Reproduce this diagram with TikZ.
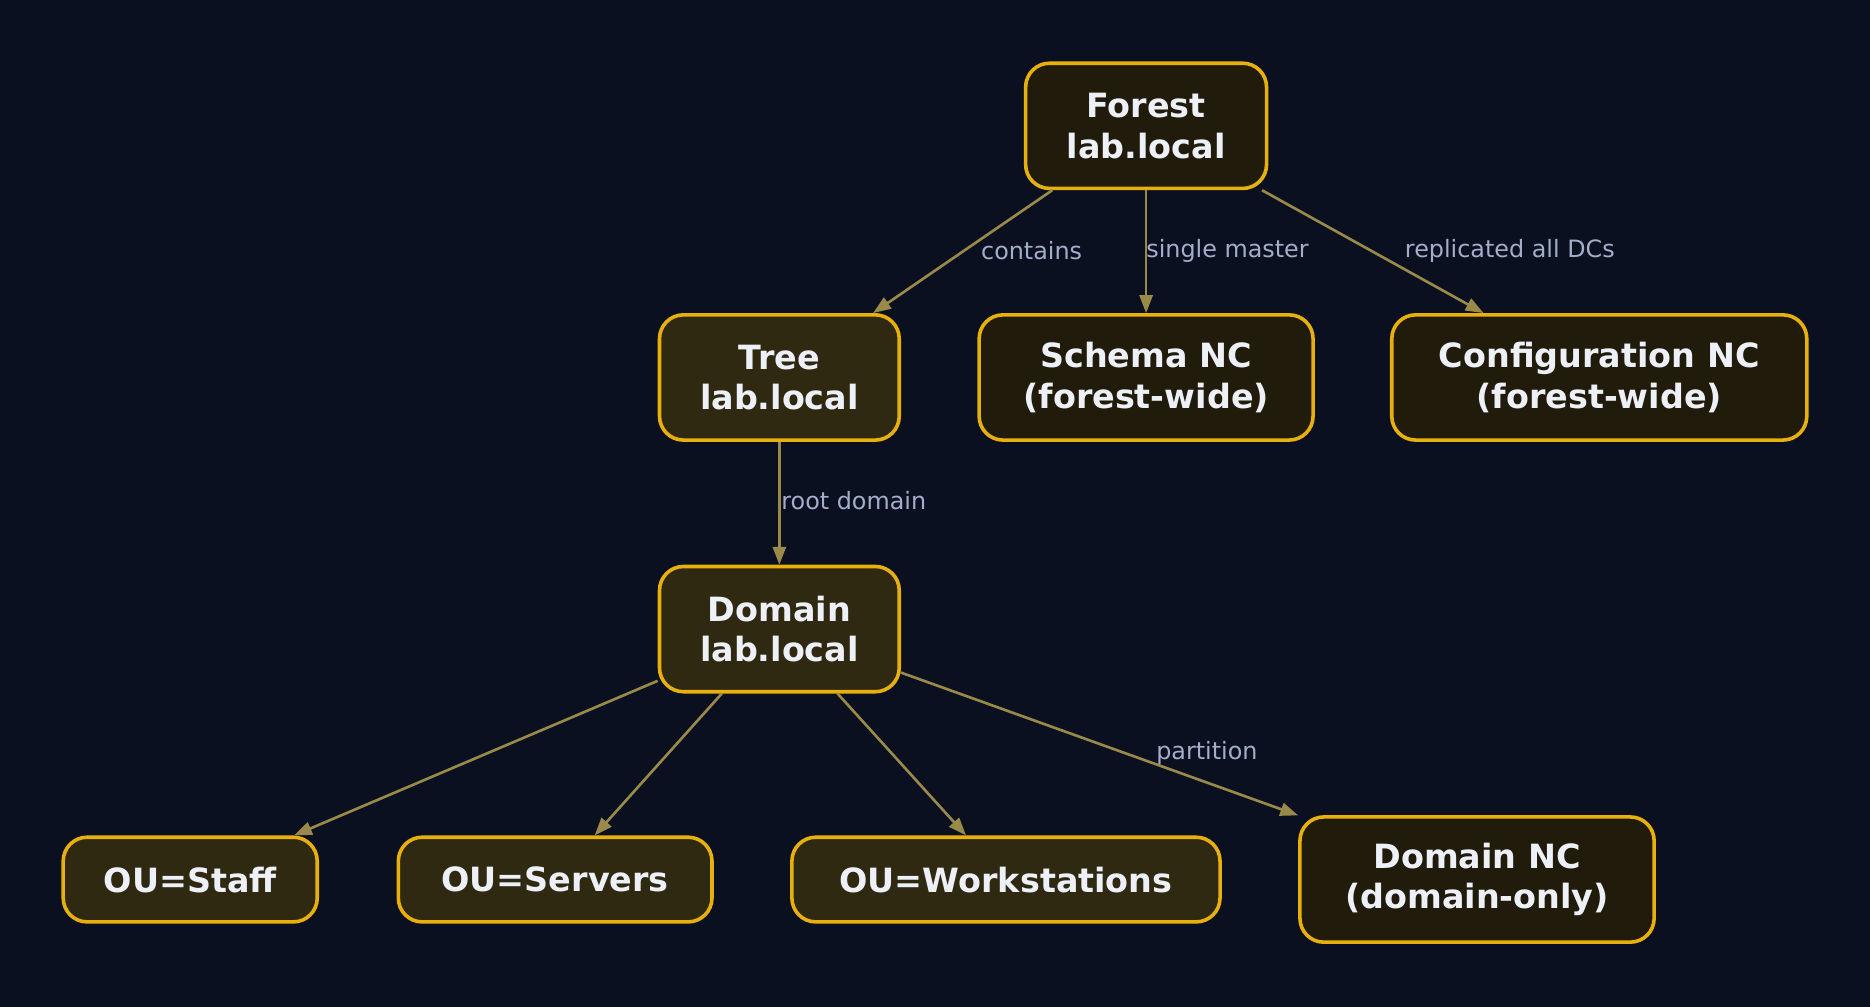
\documentclass[tikz,border=0pt]{standalone}
\usepackage{fontspec}
\setmainfont{DejaVu Sans}
\usetikzlibrary{arrows.meta}
\definecolor{bg}{HTML}{0A1020}
\definecolor{bord}{HTML}{E8B00C}
\definecolor{fdark}{HTML}{201B0A}
\definecolor{flight}{HTML}{302912}
\definecolor{edgec}{HTML}{9A8A4A}
\definecolor{labc}{HTML}{A4AECB}
\definecolor{txt}{HTML}{EEF0F8}
\tikzset{
 box/.style={draw=bord,line width=3pt,rounded corners=20pt,align=center,inner sep=0pt,
   text=txt,font=\fontsize{28}{34}\selectfont\bfseries,minimum height=105pt},
 dk/.style={box,fill=fdark},
 lt/.style={box,fill=flight},
 ou/.style={box,fill=flight,minimum height=71pt},
 conn/.style={draw=edgec,line width=2.2pt,-{Triangle[length=15pt,width=11pt]}},
 lab/.style={text=labc,font=\fontsize{20}{24}\selectfont,inner sep=0pt}
}
\begin{document}
\begin{tikzpicture}[x=1pt,y=-1pt]
\fill[bg] (0,0) rectangle (1568,844);
\useasboundingbox (0,0) rectangle (1568,844);
\node[dk,minimum width=202pt] (forest) at (961,105.5) {Forest\\lab.local};
\node[lt,minimum width=201pt] (tree) at (653.5,316.5) {Tree\\lab.local};
\node[dk,minimum width=280pt] (schema) at (961,316.5) {Schema NC\\(forest-wide)};
\node[dk,minimum width=348pt] (config) at (1341,316.5) {Configuration NC\\(forest-wide)};
\node[lt,minimum width=201pt] (domain) at (653.5,527.5) {Domain\\lab.local};
\node[ou,minimum width=213pt] (staff) at (159.5,737.5) {OU=Staff};
\node[ou,minimum width=263pt] (servers) at (465.5,737.5) {OU=Servers};
\node[ou,minimum width=359pt] (ws) at (843.5,737.5) {OU=Workstations};
\node[dk,minimum width=297pt] (dnc) at (1238.5,737.5) {Domain NC\\(domain-only)};
\draw[conn] (forest) -- (tree);
\draw[conn] (forest) -- (schema);
\draw[conn] (forest) -- (config);
\draw[conn] (tree) -- (domain);
\draw[conn] (domain) -- (staff);
\draw[conn] (domain) -- (servers);
\draw[conn] (domain) -- (ws);
\draw[conn] (domain) -- (dnc);
\node[lab] (l1) at (865,210) {contains};
\node[lab,anchor=west] (l2) at (961,210) {single master};
\node[lab] (l3) at (1266,210) {replicated all DCs};
\node[lab,anchor=west] (l4) at (655,420) {root domain};
\node[lab] (l5) at (1012,631) {partition};
\end{tikzpicture}
\end{document}
